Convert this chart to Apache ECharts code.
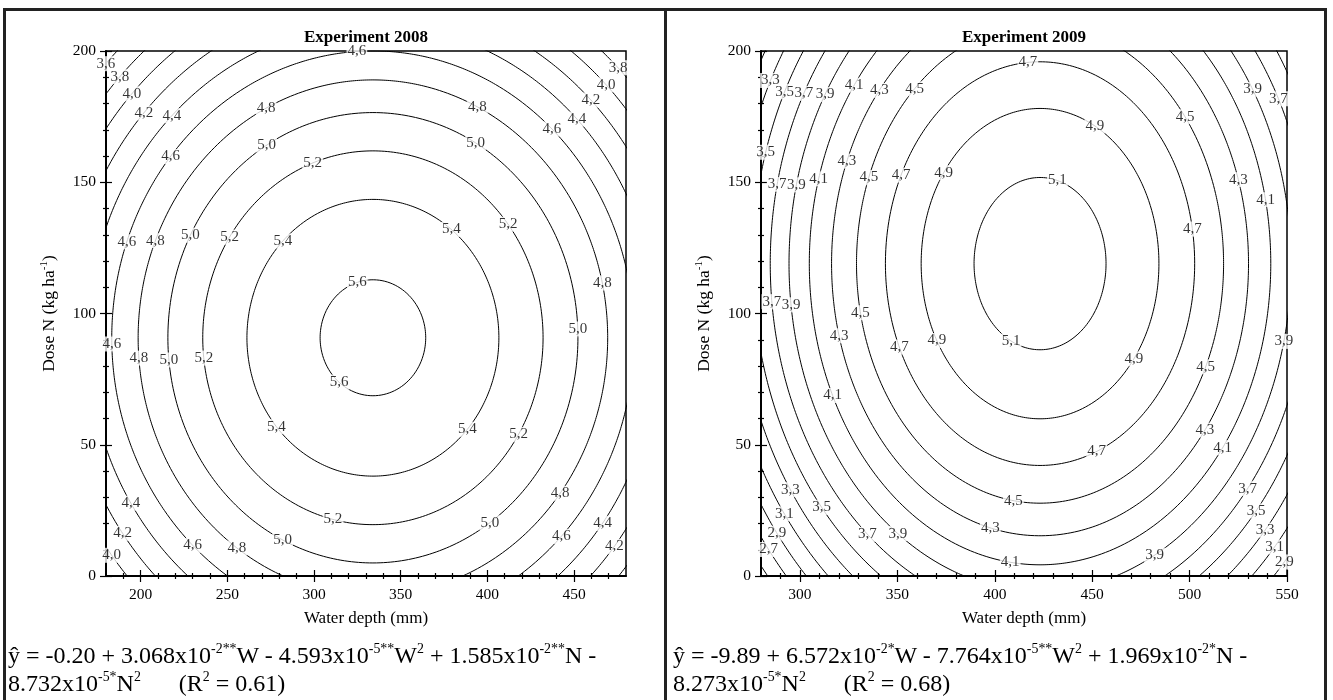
<!DOCTYPE html>
<html><head><meta charset="utf-8">
<script src="https://cdn.jsdelivr.net/npm/echarts@6/dist/echarts.min.js"></script>
<style>
html,body{margin:0;padding:0;background:#fff;}
#wrap{position:relative;width:1333px;height:700px;overflow:hidden;}
#chart{position:absolute;left:0;top:0;width:1333px;height:700px;}
.frame{position:absolute;left:3px;top:8px;width:1318px;height:700px;border:3px solid #222;border-bottom:none;}
.vdiv{position:absolute;left:664px;top:8px;width:3px;height:700px;background:#222;}
.eq{position:absolute;top:641px;font-family:'Liberation Serif','Times New Roman',serif;font-size:24px;line-height:28px;white-space:nowrap;color:#000;}
.eq sup{font-size:0.58em;position:relative;top:-0.1em;vertical-align:super;line-height:0;}
</style></head>
<body><div id="wrap"><div id="chart"></div><div class="frame"></div><div class="vdiv"></div>
<div class="eq" id="eqL" style="left:8px"></div><div class="eq" id="eqR" style="left:673px"></div></div>
<script>
// ---------- data ----------
// Regression coefficients as printed (mantissa, power of ten, significance)
const mant2008 = [-0.20, 3.068, -4.593, 1.585, -8.732];
const exp2008  = [0, -2, -5, -2, -5];
const sig2008  = ['', '**', '**', '**', '*'];
const r2_2008  = '0.61';
const mant2009 = [-9.89, 6.572, -7.764, 1.969, -8.273];
const exp2009  = [0, -2, -5, -2, -5];
const sig2009  = ['', '*', '**', '*', '*'];
const r2_2009  = '0.68';

// contour levels
const levels2008 = [3.6, 3.8, 4.0, 4.2, 4.4, 4.6, 4.8, 5.0, 5.2, 5.4, 5.6];
const levels2009 = [2.5, 2.7, 2.9, 3.1, 3.3, 3.5, 3.7, 3.9, 4.1, 4.3, 4.5, 4.7, 4.9, 5.1];

// axes
const xRange2008 = [180, 480];
const xTicks2008 = [200, 250, 300, 350, 400, 450];
const xRange2009 = [280, 550];
const xTicks2009 = [300, 350, 400, 450, 500, 550];
const yRange = [0, 200];
const yTicks = [0, 50, 100, 150, 200];

// contour label positions [level, approx W, approx N] (snapped onto their contour)
const labels2008 = [
 [3.6,179.4,195.5],[3.8,189.2,189.4],[4.0,195.6,183.3],[4.2,202.5,176],[4.4,218.7,174.9],[4.6,218.1,159.3],
 [4.8,272.9,177.5],[5.0,272.9,163.8],[5.2,299.4,157],
 [4.6,192.1,127.3],[4.8,207.7,128],[5.0,229.6,129.5],[5.2,250.4,129.5],[5.4,280.4,128.8],
 [4.6,184,88.4],[4.8,199,83],[5.0,216.3,82.3],[5.2,236.5,83],[5.4,278.7,57.2],
 [4.4,194.4,27.8],[4.2,189.8,16.4],[4.0,183.5,8],[4.6,230.2,11.8],[4.8,255.6,10.7],[5.0,282.1,14.1],
 [4.6,324.8,198.9],[4.8,394,178.3],[5.0,392.9,164.6],[3.8,474.8,193.2],[4.0,467.9,186.7],[4.2,459.8,181.4],
 [4.4,451.7,174.1],[4.6,437.3,170.3],
 [5.4,378.5,131.4],[5.2,411.3,133.7],[5.6,325.4,110.9],[4.8,466.2,111.6],[5.0,451.7,94.1],[5.6,315,74.3],
 [5.4,388.3,56],[5.2,417.7,54.1],
 [5.2,311,21.7],[5.0,401.5,20.2],[4.8,441.9,31.6],[4.6,442.5,15.2],[4.4,466.2,20.2],[4.2,473.7,11]
];
const labels2009 = [
 [3.3,283.6,189.4],[3.5,290.8,185.2],[3.7,299.5,185.2],[3.9,309.8,185.2],[4.1,326.7,187.8],[4.3,340.1,185.5],[4.5,358.5,185.9],
 [3.5,283.1,161.2],[3.7,286.2,149.7],[3.9,295.4,149.7],[4.1,307.2,152],[4.3,324.1,158.1],[4.5,334.9,152],[4.7,350.8,153.2],[4.9,373.4,153.9],
 [4.7,417,195.5],[4.9,451.4,171.5],[5.1,432.5,152],[4.5,497.6,174.9],[3.9,532,185.2],[3.7,545.4,181.7],
 [4.3,524.8,150.9],[4.1,538.7,143.3],[4.7,501.8,132.2],
 [3.7,284.6,104.4],[3.9,295.4,103.3],[4.5,330.8,100.2],[4.3,319.5,91.4],[4.7,350.3,86.9],[4.9,369.3,89.2],[4.1,316.4,68.6],
 [3.3,294.4,32.4],[3.5,310.8,25.9],[3.1,291.3,23.2],[2.9,287.7,16],[2.7,283.1,9.5],[3.7,334.4,15.6],[3.9,349.8,15.6],[4.3,397.5,17.5],
 [5.1,407.8,88.4],[4.9,472,82.3],[4.5,508.4,79.6],[3.9,547.9,89.5],[4.7,452.5,46.9],[4.3,508.4,55.2],[4.1,517.1,48.8],
 [3.7,530,33.1],[3.5,534.6,24.4],[3.3,539.2,17.1],[3.1,543.8,11],[2.9,549,5],[4.5,409.4,27.8],[4.1,407.8,4.2],[3.9,482.2,7.6]
];

// ---------- helpers ----------
const FONT = "'Liberation Serif', 'Times New Roman', serif";

function surface(mant, exps) {
  const c = mant.map((m, i) => m * Math.pow(10, exps[i]));
  return {
    W0: -c[1] / (2 * c[2]),
    N0: -c[3] / (2 * c[4]),
    zmax: c[0] - c[1] * c[1] / (4 * c[2]) - c[3] * c[3] / (4 * c[4]),
    kw: Math.sqrt(-c[2]),
    kn: Math.sqrt(-c[4])
  };
}
function contour(s, level) {
  const r = Math.sqrt(s.zmax - level), pts = [];
  for (let k = 0; k <= 720; k++) {
    const t = 2 * Math.PI * k / 720;
    pts.push([s.W0 + r * Math.cos(t) / s.kw, s.N0 + r * Math.sin(t) / s.kn]);
  }
  return pts;
}
function snap(s, level, W, N) {
  const th = Math.atan2((N - s.N0) * s.kn, (W - s.W0) * s.kw);
  const r = Math.sqrt(s.zmax - level);
  return [s.W0 + r * Math.cos(th) / s.kw, s.N0 + r * Math.sin(th) / s.kn];
}
function minorsOf(range, step, majors) {
  const out = [];
  for (let v = Math.ceil(range[0] / step) * step; v <= range[1]; v += step) {
    if (v > range[0] && v < range[1] && majors.indexOf(v) < 0) out.push(v);
  }
  return out;
}
function fmt(v) { return v.toFixed(1).replace('.', ','); }

function axisSet(kind, gridIndex, range, majors, name, nameGap) {
  const minors = minorsOf(range, 10, majors);
  const base = () => ({
    type: 'value', gridIndex, min: range[0], max: range[1],
    position: kind === 'x' ? 'bottom' : 'left',
    splitLine: { show: false },
    axisLine: { show: false, onZero: false },
    axisLabel: { show: false },
    axisTick: { show: false }
  });
  const tick = (vals, len, inside) => ({ show: true, customValues: vals, length: len, inside, lineStyle: { color: '#000', width: 1.2 } });
  const a = base();
  a.axisLine = { show: true, onZero: false, lineStyle: { color: '#000', width: 2 } };
  a.axisTick = tick(majors, 6, false);
  a.axisLabel = { show: true, customValues: majors, margin: kind === 'x' ? 11 : 10, fontFamily: FONT, fontSize: 15.5, color: '#000' };
  a.name = name;
  a.nameLocation = 'middle';
  a.nameGap = nameGap;
  a.nameTextStyle = {
    fontFamily: FONT, fontSize: 17, color: '#000',
    rich: {
      a: { fontFamily: FONT, fontSize: 17.5, color: '#000', lineHeight: 20 },
      s: { fontFamily: FONT, fontSize: 11, color: '#000', lineHeight: 20, padding: [0, 0, 9, 0] }
    }
  };
  const b = base(); b.axisTick = tick(majors, 6, true);
  const c = base(); c.axisTick = tick(minors, 3, false);
  const d = base(); d.axisTick = tick(minors, 3, true);
  return [a, b, c, d];
}

function eqHtml(mant, exps, sig, r2) {
  const vars = ['', 'W', 'W<sup>2</sup>', 'N', 'N<sup>2</sup>'];
  const term = i => Math.abs(mant[i]).toFixed(3) + 'x10<sup>' + exps[i] + sig[i] + '</sup>' + vars[i];
  const sg = i => (mant[i] < 0 ? ' - ' : ' + ');
  let l1 = '\u0177 = ' + mant[0].toFixed(2) + sg(1) + term(1) + sg(2) + term(2) + sg(3) + term(3) + (mant[4] < 0 ? ' -' : ' +');
  let l2 = term(4) + '<span style="margin-left:38px">(R<sup>2</sup> = ' + r2 + ')</span>';
  return l1 + '<br>' + l2;
}
document.getElementById('eqL').innerHTML = eqHtml(mant2008, exp2008, sig2008, r2_2008);
document.getElementById('eqR').innerHTML = eqHtml(mant2009, exp2009, sig2009, r2_2009);

// ---------- chart ----------
const grids = [
  { left: 106, top: 51, width: 520, height: 525 },
  { left: 761, top: 51, width: 526, height: 525 }
];
const panels = [
  { s: surface(mant2008, exp2008), levels: levels2008, labels: labels2008, xr: xRange2008, xt: xTicks2008, title: 'Experiment 2008' },
  { s: surface(mant2009, exp2009), levels: levels2009, labels: labels2009, xr: xRange2009, xt: xTicks2009, title: 'Experiment 2009' }
];
const yName = '{a|Dose N (kg ha}{s|-1}{a|)}';

let xAxis = [], yAxis = [], series = [], graphic = [];
panels.forEach((p, gi) => {
  xAxis = xAxis.concat(axisSet('x', gi, p.xr, p.xt, 'Water depth (mm)', 34));
  yAxis = yAxis.concat(axisSet('y', gi, yRange, yTicks, yName, 47));
  const xi = gi * 4, yi = gi * 4;
  p.levels.forEach(lv => {
    series.push({
      type: 'line', xAxisIndex: xi, yAxisIndex: yi, data: contour(p.s, lv),
      showSymbol: false, symbol: 'none', smooth: false, clip: true, silent: true,
      lineStyle: { color: '#000', width: 1 }, z: 2, animation: false
    });
  });
  series.push({
    type: 'scatter', xAxisIndex: xi, yAxisIndex: yi, symbolSize: 1, clip: false, silent: true, z: 5,
    itemStyle: { color: 'rgba(0,0,0,0)' }, animation: false,
    label: {
      show: true, position: 'inside', formatter: q => q.name,
      fontFamily: FONT, fontSize: 15, color: '#000', textBorderWidth: 0, textBorderColor: 'transparent',
      backgroundColor: '#fff', padding: [0, 1, 0, 1]
    },
    labelLine: { show: false },
    data: p.labels.map(l => ({ name: fmt(l[0]), value: snap(p.s, l[0], l[1], l[2]) }))
  });
  const g = grids[gi];
  graphic.push({
    type: 'text', x: g.left + g.width / 2, y: 38, silent: true,
    style: { text: p.title, fill: '#000', font: 'bold 17px ' + FONT, textAlign: 'center', textVerticalAlign: 'middle' }
  });
});

const chart = echarts.init(document.getElementById('chart'), null, { renderer: 'canvas' });
chart.setOption({
  animation: false,
  backgroundColor: '#fff',
  grid: grids.map(g => Object.assign({ show: true, borderColor: '#000', borderWidth: 1.5, backgroundColor: 'rgba(0,0,0,0)', containLabel: false }, g)),
  xAxis, yAxis, series, graphic
});
</script></body></html>
